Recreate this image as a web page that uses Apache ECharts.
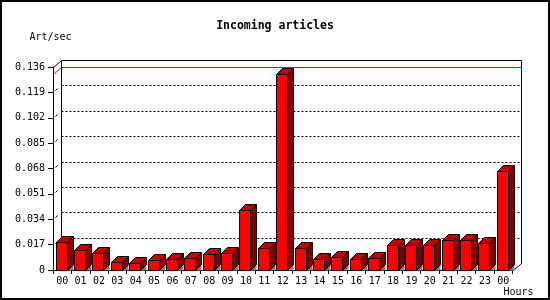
<!DOCTYPE html>
<html><head><meta charset="utf-8">
<script src="https://cdn.jsdelivr.net/npm/echarts@6/dist/echarts.min.js"></script>
<style>html,body{margin:0;padding:0;background:#fff}#c{width:550px;height:300px}</style>
</head><body><div id="c"></div>
<script>
// ---- data ----
const chartTitle = 'Incoming articles';
const yAxisName = 'Art/sec';
const xAxisName = 'Hours';
const hours = ['00','01','02','03','04','05','06','07','08','09','10','11','12','13','14','15','16','17','18','19','20','21','22','23','00'];
const artPerSec = [0.0186,0.0134,0.0112,0.0051,0.0045,0.0065,0.0072,0.0078,0.0107,0.0114,0.0400,0.0145,0.1313,0.0145,0.0072,0.0087,0.0072,0.0078,0.0165,0.0165,0.0165,0.0201,0.0201,0.0179,0.0661];
const yTicks = [0,0.017,0.034,0.051,0.068,0.085,0.102,0.119,0.136];
const yMin = 0, yMax = 0.136, yStep = 0.017;

// ---- style ----
const FONT = 'DejaVu Sans Mono';
const WALL_DX = 8, WALL_DY = 7;
const BAR_DX = 6, BAR_DY = 6, BAR_W = 11;
const C_FRONT = '#ff0000', C_TOP = '#c00000', C_SIDE = '#800000', C_SHADOW = '#808080';
const px = v => Math.round(v) + 0.5;

function frameItem(params, api) {
  const cs = params.coordSys;
  const left = cs.x, top = cs.y, right = cs.x + cs.width, bottom = cs.y + cs.height;
  const bl = px(left + WALL_DX), bt = px(top - WALL_DY), br = px(right + WALL_DX), bb = px(bottom - WALL_DY);
  const L = px(left), R = px(right), B = px(bottom), T = px(top);
  const ch = [];
  const line = (x1, y1, x2, y2, stroke, dash) => ch.push({
    type: 'line', shape: {x1, y1, x2, y2},
    style: {stroke: stroke || '#000', lineWidth: 1, lineDash: dash || null}
  });
  yTicks.forEach(t => {
    if (t <= yMin || t >= yMax) return;
    const yf = api.coord([0, t])[1];
    const yb = px(yf - WALL_DY);
    line(bl, yb, br, yb, '#000', [2, 2]);
    // small visible piece on the left wall
    line(L + 2, px(yf - 2), L + 4, px(yf - 4));
  });
  // max line (red)
  const maxV = Math.max.apply(null, artPerSec);
  const ym = api.coord([0, maxV])[1];
  line(L, px(ym), bl, px(ym - WALL_DY), '#ff0000');
  line(bl, px(ym - WALL_DY), br, px(ym - WALL_DY), '#ff0000');
  // back plane edges
  line(bl, bt, br, bt);
  line(bl, bt, bl, bb);
  line(br, bt, br, bb);
  line(L, T, bl, bt);
  line(br, bb, R, B);
  return {type: 'group', children: ch};
}

function barItem(params, api) {
  const i = api.value(0), v = api.value(1);
  const p = api.coord([i, v]);
  const p0 = api.coord([i, 0]);
  const x0 = Math.round(p[0] - BAR_W / 2) - 0.5, x1 = x0 + BAR_W;
  const yt = px(p[1]), yb = px(p0[1]);
  const dx = BAR_DX, dy = BAR_DY;
  const stroke = {stroke: '#000', lineWidth: 1};
  return {type: 'group', children: [
    {type: 'polygon', shape: {points: [[x1, yb], [x1 + dx, yb - dy], [x1 + dx, yb]]}, style: {fill: C_SHADOW}},
    {type: 'polygon', shape: {points: [[x1, yt], [x1 + dx, yt - dy], [x1 + dx, yb - dy], [x1, yb]]}, style: Object.assign({fill: C_SIDE}, stroke)},
    {type: 'polygon', shape: {points: [[x0, yt], [x0 + dx, yt - dy], [x1 + dx, yt - dy], [x1, yt]]}, style: Object.assign({fill: C_TOP}, stroke)},
    {type: 'rect', shape: {x: x0, y: yt, width: BAR_W, height: yb - yt}, style: Object.assign({fill: C_FRONT}, stroke)}
  ]};
}

const chart = echarts.init(document.getElementById('c'), null, {renderer: 'canvas'});
chart.setOption({
  animation: false,
  backgroundColor: '#fff',
  textStyle: {fontFamily: FONT},
  title: {
    text: chartTitle, left: 'center', top: 19, padding: 0,
    textStyle: {fontFamily: FONT, fontSize: 11.5, fontWeight: 'bold', color: '#000', lineHeight: 14}
  },
  grid: {left: 53, top: 67, right: 37.5, bottom: 30, containLabel: false},
  xAxis: {
    type: 'category', data: hours, boundaryGap: true,
    name: xAxisName, nameLocation: 'end', nameGap: 6,
    nameTextStyle: {fontFamily: FONT, fontSize: 10, color: '#000', align: 'center', verticalAlign: 'top', padding: [17, 0, 0, 0]},
    axisLine: {lineStyle: {color: '#000', width: 1}},
    axisTick: {show: true, length: 4, interval: 0, lineStyle: {color: '#000'}},
    axisLabel: {interval: 0, fontFamily: FONT, fontSize: 10, color: '#000', margin: 6},
    splitLine: {show: false}
  },
  yAxis: {
    type: 'value', min: yMin, max: yMax, interval: yStep,
    name: yAxisName, nameLocation: 'end', nameGap: 25,
    nameTextStyle: {fontFamily: FONT, fontSize: 10, color: '#000', align: 'center', padding: [0, 5, 0, 0]},
    axisLine: {show: true, lineStyle: {color: '#000', width: 1}},
    axisTick: {show: true, length: 5, lineStyle: {color: '#000'}},
    axisLabel: {fontFamily: FONT, fontSize: 10, color: '#000', margin: 8,
      formatter: v => v === 0 ? '0' : v.toFixed(3)},
    splitLine: {show: false}
  },
  series: [
    {type: 'custom', renderItem: frameItem, data: [[0, 0]], encode: {x: 0, y: 1}, z: 1, silent: true},
    {type: 'custom', renderItem: barItem, data: artPerSec.map((v, i) => [i, v]), encode: {x: 0, y: 1}, z: 2, silent: true}
  ],
  graphic: [{type: 'rect', z: 100, silent: true, shape: {x: 1, y: 1, width: 548, height: 298}, style: {fill: 'none', stroke: '#000', lineWidth: 2}}]
});
</script>
</body></html>
